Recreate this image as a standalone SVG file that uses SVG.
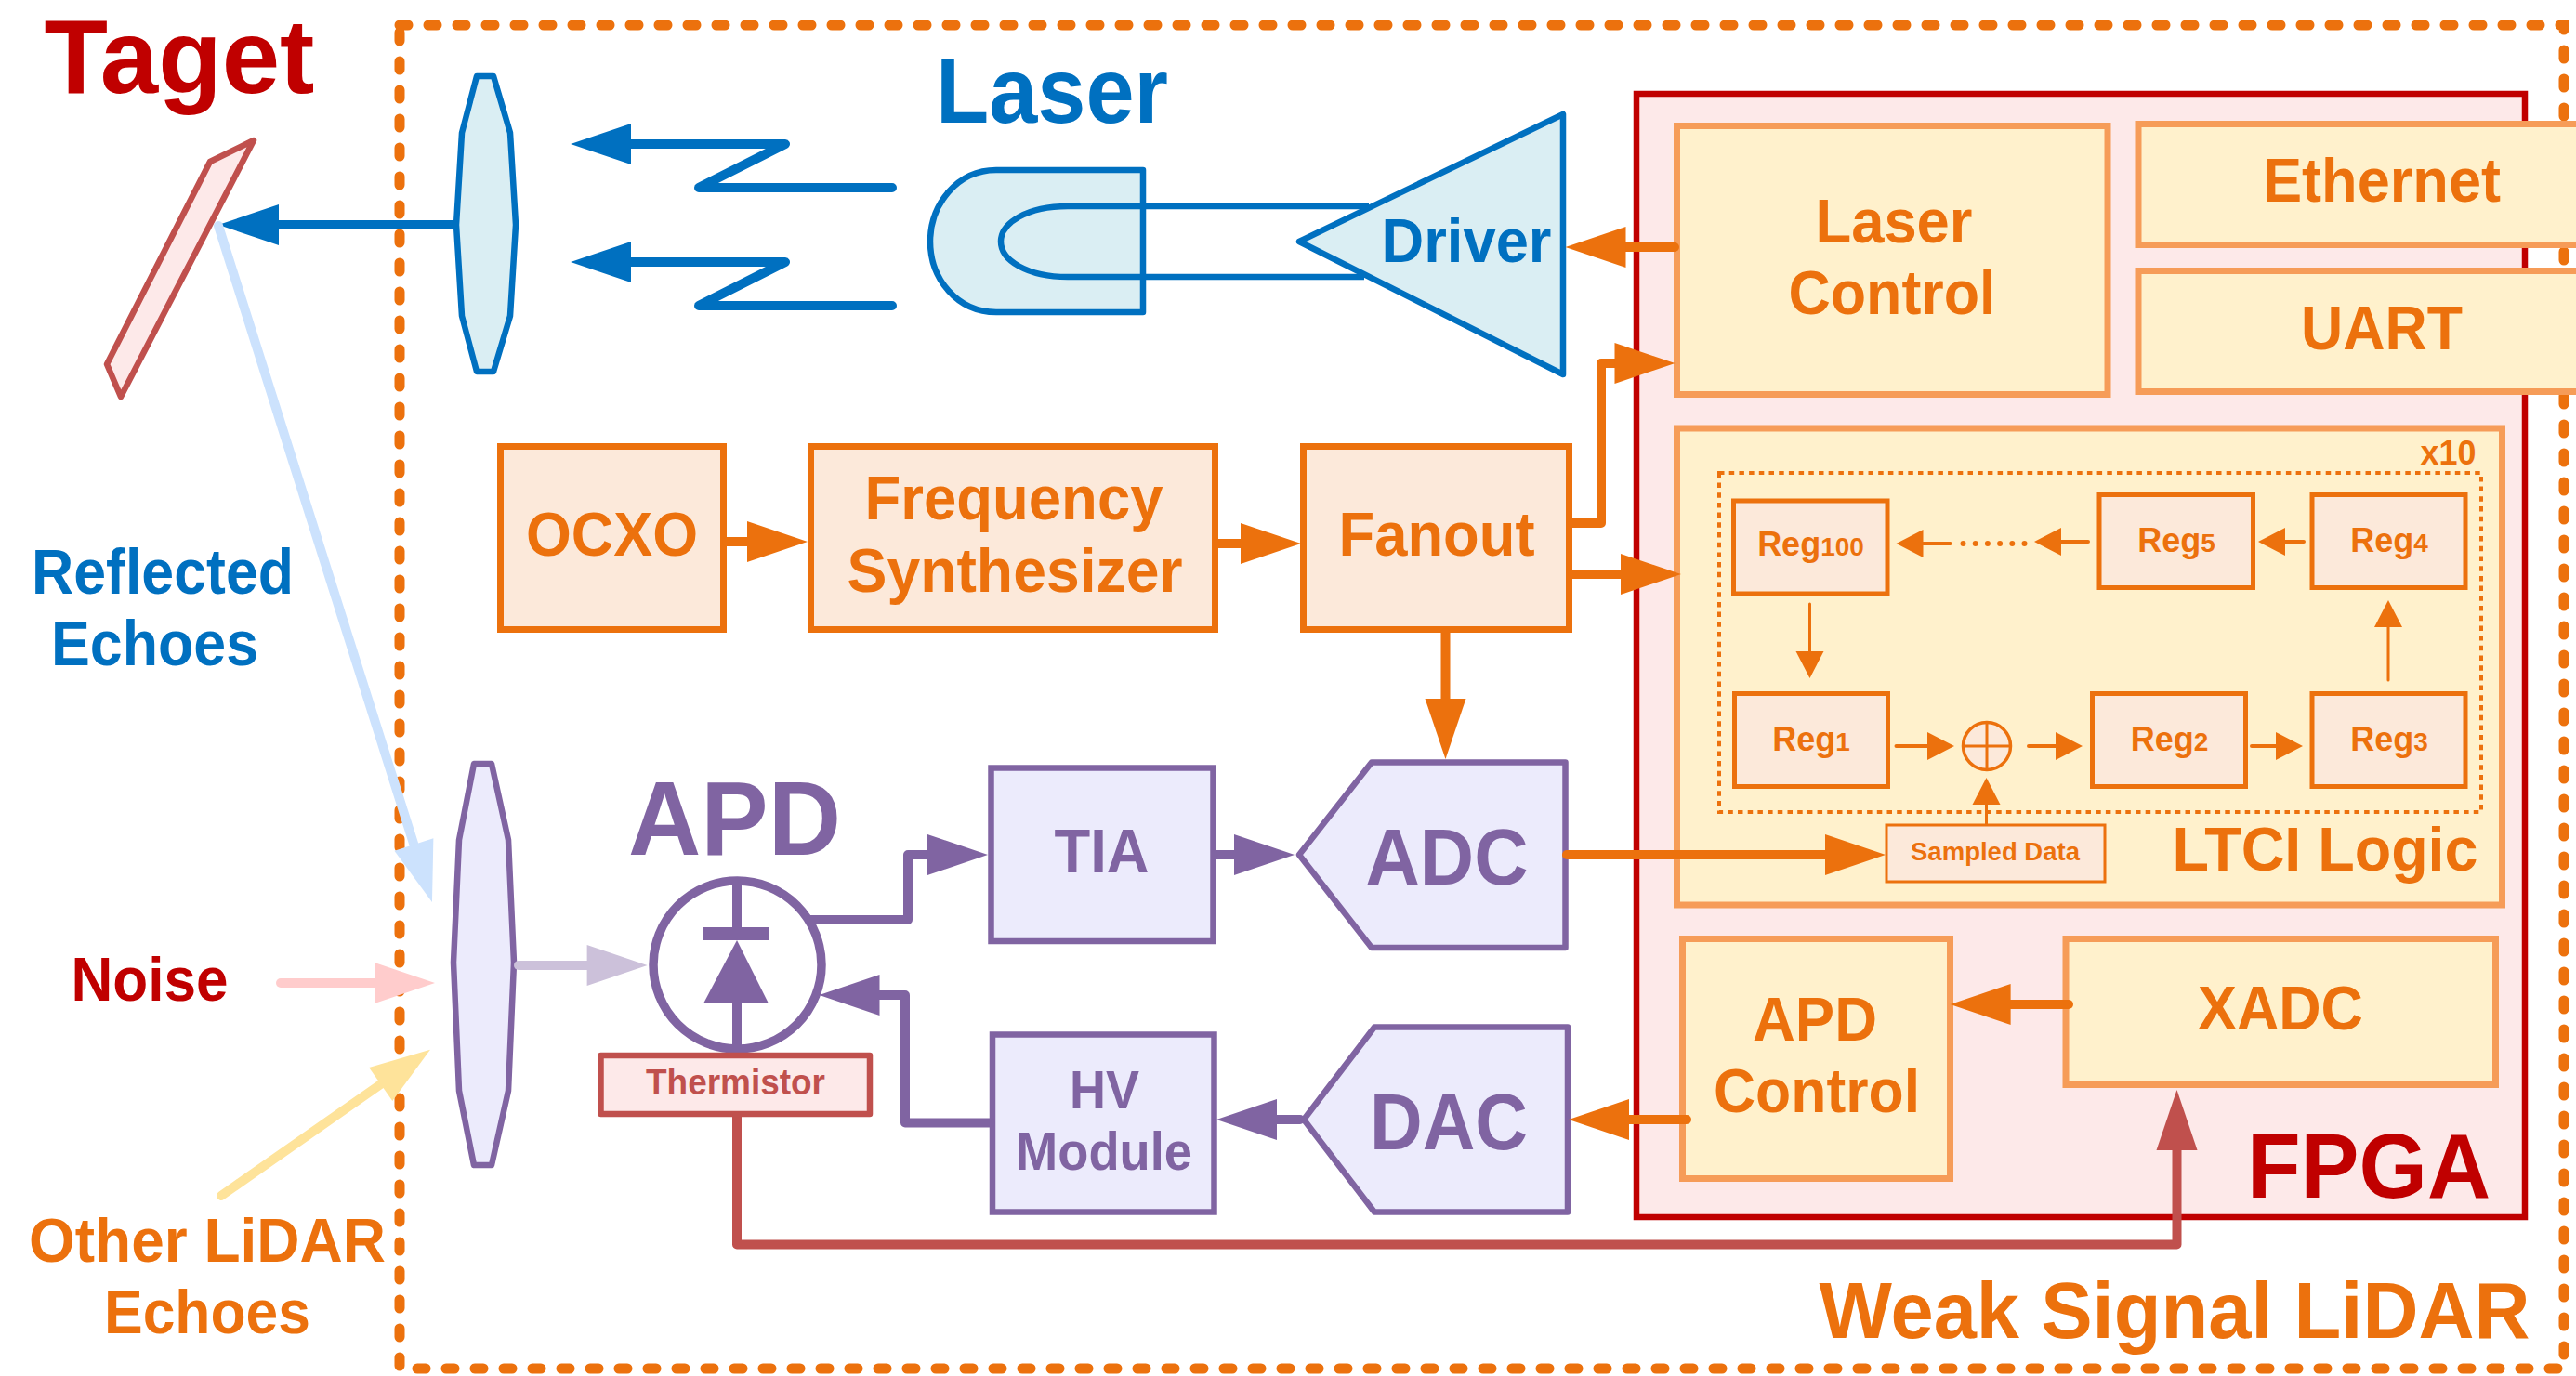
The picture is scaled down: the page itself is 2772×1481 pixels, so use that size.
<svg xmlns="http://www.w3.org/2000/svg" width="2772" height="1481" viewBox="0 0 2772 1481">
<style>
text{font-family:"Liberation Sans",Arial,sans-serif;font-weight:700;text-anchor:middle}
.or{fill:#EC710D}.bl{fill:#0070C0}.pu{fill:#8064A2}.rd{fill:#C00000}.br{fill:#C0504D}
.s64{font-size:67px}
.blk-o{fill:#FCE9DA;stroke:#EC710D;stroke-width:7}
.blk-y{fill:#FFF1CC;stroke:#F69C58;stroke-width:7}
.blk-p{fill:#ECEBFC;stroke:#8064A2;stroke-width:6.5}
.blk-b{fill:#DAEEF3;stroke:#0070C0;stroke-width:6.5;stroke-linejoin:round}
.blk-r{fill:#FDE9E9;stroke:#C0504D;stroke-width:6.5;stroke-linejoin:round}
.reg{fill:#FCE9DA;stroke:#EC710D;stroke-width:5}
.c{fill:none;stroke-width:10;stroke-linejoin:round;stroke-linecap:round}
.c-o{stroke:#EC710D;marker-end:url(#ao)}
.c-b{stroke:#0070C0;marker-end:url(#ab)}
.c-p{stroke:#8064A2;marker-end:url(#ap)}
.c-r{stroke:#C0504D;marker-end:url(#ar)}
.s{fill:none;stroke:#EC710D;stroke-width:4;stroke-linecap:round;marker-end:url(#as)}
.sub{font-size:28px}
.r{font-size:36px}
</style>
<defs>
<marker id="ao" markerUnits="userSpaceOnUse" markerWidth="70" markerHeight="50" refX="0" refY="22" orient="auto" overflow="visible"><path d="M0,0L65,22L0,44Z" fill="#EC710D"/></marker>
<marker id="ab" markerUnits="userSpaceOnUse" markerWidth="70" markerHeight="50" refX="0" refY="22" orient="auto" overflow="visible"><path d="M0,0L65,22L0,44Z" fill="#0070C0"/></marker>
<marker id="ap" markerUnits="userSpaceOnUse" markerWidth="70" markerHeight="50" refX="0" refY="22" orient="auto" overflow="visible"><path d="M0,0L65,22L0,44Z" fill="#8064A2"/></marker>
<marker id="ar" markerUnits="userSpaceOnUse" markerWidth="70" markerHeight="50" refX="0" refY="22" orient="auto" overflow="visible"><path d="M0,0L65,22L0,44Z" fill="#C0504D"/></marker>
<marker id="ag" markerUnits="userSpaceOnUse" markerWidth="70" markerHeight="50" refX="0" refY="22" orient="auto" overflow="visible"><path d="M0,0L65,22L0,44Z" fill="#CCC1DA"/></marker>
<marker id="al" markerUnits="userSpaceOnUse" markerWidth="70" markerHeight="50" refX="0" refY="22" orient="auto" overflow="visible"><path d="M0,0L65,22L0,44Z" fill="#CCE2FD"/></marker>
<marker id="an" markerUnits="userSpaceOnUse" markerWidth="70" markerHeight="50" refX="0" refY="22" orient="auto" overflow="visible"><path d="M0,0L65,22L0,44Z" fill="#FFCCCC"/></marker>
<marker id="ay" markerUnits="userSpaceOnUse" markerWidth="70" markerHeight="50" refX="0" refY="22" orient="auto" overflow="visible"><path d="M0,0L65,22L0,44Z" fill="#FEE39A"/></marker>
<marker id="as" markerUnits="userSpaceOnUse" markerWidth="32" markerHeight="32" refX="0" refY="15" orient="auto" overflow="visible"><path d="M0,0L29,15L0,30Z" fill="#EC710D"/></marker>
</defs>
<rect width="2772" height="1481" fill="#fff"/>

<g id="lidar-frame">
<rect x="430" y="27" width="2329" height="1446" fill="none" stroke="#EC710D" stroke-width="11" stroke-dasharray="9 22" stroke-linecap="round"/>
<text class="or" x="2340" y="1440" font-size="86" textLength="765" lengthAdjust="spacingAndGlyphs">Weak Signal LiDAR</text>
</g>
<g id="target">
<path d="M273,151L226,174L115,392L130,427Z" class="blk-r"/>
<text class="rd" x="193" y="100" font-size="114" textLength="291" lengthAdjust="spacingAndGlyphs">Taget</text>
</g>
<g id="labels">
<text class="bl" x="175" y="639" font-size="68" textLength="282" lengthAdjust="spacingAndGlyphs">Reflected</text>
<text class="bl" x="166.500" y="716" font-size="68" textLength="223" lengthAdjust="spacingAndGlyphs">Echoes</text>
<text class="rd" x="161" y="1077" font-size="66" textLength="169" lengthAdjust="spacingAndGlyphs">Noise</text>
<text class="or" x="223" y="1358" font-size="67" textLength="384" lengthAdjust="spacingAndGlyphs">Other LiDAR</text>
<text class="or" x="223" y="1435" font-size="67" textLength="222" lengthAdjust="spacingAndGlyphs">Echoes</text>
</g>
<g id="tx-lens"><path d="M513,82L497,143L491,242L497,340L513,400H531L549,340L555,242L549,143L531,82Z" class="blk-b"/></g>
<g id="laser">
<path d="M1230,183H1072C1030,183 1001,220 1001,260C1001,300 1030,336 1072,336H1230Z" class="blk-b"/>
<path d="M1473,222H1149C1105,222 1077,240 1077,260C1077,280 1105,298 1149,298H1468" fill="none" stroke="#0070C0" stroke-width="6.5"/>
<text class="bl" x="1132" y="132" font-size="100" textLength="250" lengthAdjust="spacingAndGlyphs">Laser</text>
</g>
<g id="driver">
<path d="M1398,260L1682,123V403Z" class="blk-b"/>
<text class="bl" x="1578" y="282" font-size="66" textLength="183" lengthAdjust="spacingAndGlyphs">Driver</text>
</g>
<g id="fpga">
<rect x="1761" y="101" width="956" height="1209" fill="#FDE9E9" stroke="#C00000" stroke-width="6.5"/>
<text class="rd" x="2549" y="1289" font-size="99" textLength="262" lengthAdjust="spacingAndGlyphs">FPGA</text>
</g>
<g id="laser-control">
<rect x="1804.500" y="135.500" width="463.500" height="289" class="blk-y"/>
<text class="or s64" x="2038" y="261" textLength="169" lengthAdjust="spacingAndGlyphs">Laser</text>
<text class="or s64" x="2036" y="338" textLength="223" lengthAdjust="spacingAndGlyphs">Control</text>
</g>
<g id="ethernet">
<rect x="2301" y="133.500" width="489" height="130" class="blk-y"/>
<text class="or s64" x="2563" y="217" textLength="256" lengthAdjust="spacingAndGlyphs">Ethernet</text>
</g>
<g id="uart">
<rect x="2301" y="291.500" width="489" height="130" class="blk-y"/>
<text class="or s64" x="2563" y="376" textLength="174" lengthAdjust="spacingAndGlyphs">UART</text>
</g>
<g id="ocxo">
<rect x="538.500" y="480.500" width="240" height="197" class="blk-o"/>
<text class="or s64" x="658.500" y="598" textLength="185" lengthAdjust="spacingAndGlyphs">OCXO</text>
</g>
<g id="synth">
<rect x="872.500" y="480.500" width="435" height="197" class="blk-o"/>
<text class="or s64" x="1091" y="559" textLength="321" lengthAdjust="spacingAndGlyphs">Frequency</text>
<text class="or s64" x="1092" y="637" textLength="361" lengthAdjust="spacingAndGlyphs">Synthesizer</text>
</g>
<g id="fanout">
<rect x="1402.500" y="480.500" width="286" height="197" class="blk-o"/>
<text class="or s64" x="1546" y="598" textLength="211" lengthAdjust="spacingAndGlyphs">Fanout</text>
</g>
<g id="ltci">
<rect x="1804.500" y="461" width="888" height="513" class="blk-y"/>
<rect x="1850" y="509" width="820" height="365" fill="none" stroke="#EC710D" stroke-width="4" stroke-dasharray="5.500 5.200"/>
<text class="or" x="2634.500" y="500" font-size="37" textLength="60" lengthAdjust="spacingAndGlyphs">x10</text>
<text class="or s64" x="2502" y="937" textLength="329" lengthAdjust="spacingAndGlyphs">LTCI Logic</text>
</g>
<g id="reg100"><rect x="1865.500" y="539" width="165.500" height="100" class="reg"/><text class="or r" x="1948.500" y="598">Reg<tspan class="sub">100</tspan></text></g>
<g id="reg5"><rect x="2259" y="532.500" width="165.500" height="100" class="reg"/><text class="or r" x="2342" y="594">Reg<tspan class="sub">5</tspan></text></g>
<g id="reg4"><rect x="2488" y="532.500" width="165" height="100" class="reg"/><text class="or r" x="2571" y="594">Reg<tspan class="sub">4</tspan></text></g>
<g id="reg1"><rect x="1866.500" y="746.500" width="165" height="100" class="reg"/><text class="or r" x="1949" y="807.500">Reg<tspan class="sub">1</tspan></text></g>
<g id="reg2"><rect x="2251.500" y="746.500" width="165" height="100" class="reg"/><text class="or r" x="2334.500" y="807.500">Reg<tspan class="sub">2</tspan></text></g>
<g id="reg3"><rect x="2488" y="746.500" width="165" height="100" class="reg"/><text class="or r" x="2571" y="807.500">Reg<tspan class="sub">3</tspan></text></g>
<g id="xor"><circle cx="2138" cy="803" r="25.500" fill="#FCE9DA" stroke="#EC710D" stroke-width="3.500"/><path d="M2112.500,803H2163.500M2138,777.500V828.500" stroke="#EC710D" stroke-width="3" fill="none"/></g>
<g id="sampled"><rect x="2030" y="888" width="235" height="61" fill="#FCE9DA" stroke="#EC710D" stroke-width="3"/><text class="or" x="2147" y="926" font-size="28" textLength="182" lengthAdjust="spacingAndGlyphs">Sampled Data</text></g>
<g id="apd-control">
<rect x="1810.500" y="1010.500" width="288" height="258" class="blk-y"/>
<text class="or s64" x="1953" y="1120" textLength="134" lengthAdjust="spacingAndGlyphs">APD</text>
<text class="or s64" x="1955" y="1197" textLength="222" lengthAdjust="spacingAndGlyphs">Control</text>
</g>
<g id="xadc">
<rect x="2223" y="1010.500" width="462.500" height="157" class="blk-y"/>
<text class="or s64" x="2454" y="1108" textLength="178" lengthAdjust="spacingAndGlyphs">XADC</text>
</g>
<g id="rx-lens"><path d="M529,822H510L494,904L488,1036L494,1174L510,1254H529L547,1174L553,1036L547,904Z" class="blk-p" style="stroke-linejoin:round"/></g>
<g id="apd">
<circle cx="793.500" cy="1038.500" r="90.500" fill="#fff" stroke="#8064A2" stroke-width="9.500"/>
<path d="M793,948V1000M793,1075V1129" stroke="#8064A2" stroke-width="10" fill="none"/>
<rect x="756" y="998" width="71" height="14" class="pu"/>
<path d="M793,1012L827,1080H757Z" class="pu"/>
<text class="pu" x="790.500" y="920" font-size="114" textLength="229" lengthAdjust="spacingAndGlyphs">APD</text>
</g>
<g id="thermistor">
<rect x="646.500" y="1136" width="289.500" height="63" class="blk-r"/>
<text class="br" x="791.500" y="1178" font-size="39" textLength="193" lengthAdjust="spacingAndGlyphs">Thermistor</text>
</g>
<g id="tia">
<rect x="1066.500" y="826.500" width="239" height="186.500" class="blk-p"/>
<text class="pu s64" x="1185.500" y="939" textLength="102" lengthAdjust="spacingAndGlyphs">TIA</text>
</g>
<g id="hv">
<rect x="1068" y="1113.500" width="238.500" height="191" class="blk-p"/>
<text class="pu" x="1188.500" y="1192.500" font-size="58" textLength="75" lengthAdjust="spacingAndGlyphs">HV</text>
<text class="pu" x="1188" y="1259" font-size="58" textLength="190" lengthAdjust="spacingAndGlyphs">Module</text>
</g>
<g id="adc">
<path d="M1398,920L1476,820.500H1684.500V1020H1476Z" class="blk-p" style="stroke-linejoin:round"/>
<text class="pu" x="1557" y="952" font-size="85" textLength="175" lengthAdjust="spacingAndGlyphs">ADC</text>
</g>
<g id="dac">
<path d="M1403,1205L1479,1105.500H1687V1304.500H1479Z" class="blk-p" style="stroke-linejoin:round"/>
<text class="pu" x="1559" y="1237" font-size="85" textLength="170" lengthAdjust="spacingAndGlyphs">DAC</text>
</g>

<g id="connectors">
<path class="c c-b" d="M488,242H300"/>
<path class="c c-b" d="M960,202H752L845,155H679"/>
<path class="c c-b" d="M960,329H752L845,282H679"/>
<path class="c" stroke="#CCE2FD" style="marker-end:url(#al)" d="M235,243L445.400,909"/>
<path class="c" stroke="#FFCCCC" style="marker-end:url(#an)" d="M302,1058H403"/>
<path class="c" stroke="#FEE39A" style="marker-end:url(#ay)" d="M238,1287L409.700,1167"/>
<path class="c" stroke="#CCC1DA" style="marker-end:url(#ag)" d="M558,1039H631.600"/>
<path class="c c-o" d="M1802,266H1749.500"/>
<path class="c c-o" d="M782,583H804"/>
<path class="c c-o" d="M1311,585H1335"/>
<path class="c c-o" d="M1692,563H1723V391H1737.500"/>
<path class="c c-o" d="M1692,618H1744"/>
<path class="c c-o" d="M1555.500,681V752"/>
<path class="c c-o" d="M1686,920H1964"/>
<path class="c c-o" d="M2226,1081H2163.600"/>
<path class="c c-o" d="M1815,1205H1753"/>
<path class="c c-p" d="M1308,920H1328"/>
<path class="c c-p" d="M871,990H977V920H998"/>
<path class="c c-p" d="M1066,1208.500H974V1071H946.500"/>
<path class="c c-p" d="M1399,1205H1374"/>
<path class="c c-r" d="M793,1202V1339.500H2342.500V1238"/>
<path class="s" d="M2098.600,585H2069.500"/>
<path class="s" d="M2178.500,585H2112" style="stroke-width:6;stroke-dasharray:0 13.200;marker-end:none"/>
<path class="s" d="M2247,583H2218"/>
<path class="s" d="M2479,583H2459"/>
<path class="s" style="stroke-width:3" d="M1947.500,650V701"/>
<path class="s" style="stroke-width:3" d="M2570,732V675"/>
<path class="s" d="M2040.500,803H2074"/>
<path class="s" d="M2183,803H2212"/>
<path class="s" d="M2423,803H2449"/>
<path class="s" style="stroke-width:3" d="M2137.500,887V866"/>
</g>
</svg>
